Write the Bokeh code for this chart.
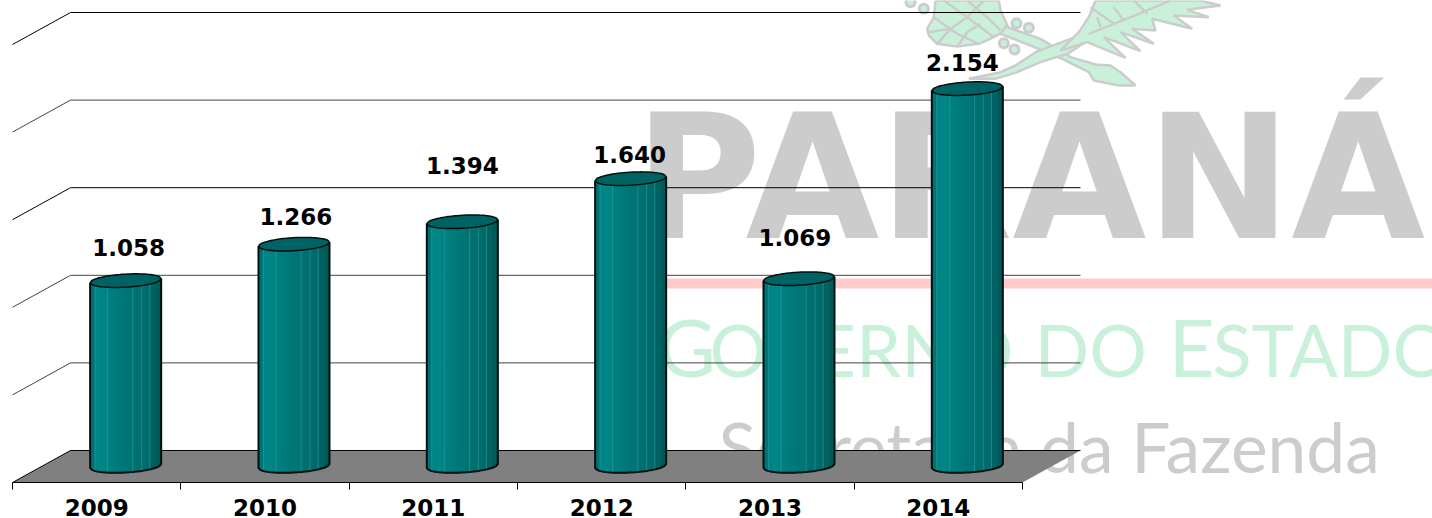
import numpy as np
from bokeh.embed import file_html
from bokeh.models import FixedTicker, Range1d
from bokeh.core.properties import value
from bokeh.plotting import figure
from bokeh.resources import INLINE

# ---- chart data
years = ["2009", "2010", "2011", "2012", "2013", "2014"]
values = [1058, 1266, 1394, 1640, 1069, 2154]
value_labels = ["1.058", "1.266", "1.394", "1.640", "1.069", "2.154"]
label_lift = [190, 158, 320, 140, 235, 150]
label_nudge = [3, 2, 0, -1, -4, -5]
wall_ticks = [0, 500, 1000, 1500, 2000, 2500]

# ---- projection, page pixels <-> chart units
PX_CAT = 168.33
PX_VAL = 87.6 / 500
X0_PAGE = 12.0
Y0_PAGE = 465.5
FRONT = -16.5 / PX_VAL
BACK = 15.5 / PX_VAL
DEPTH_X = 58 / PX_CAT
MID_X = DEPTH_X / 2
HALF_W = 35.5 / PX_CAT
FACE = 6.5 / PX_VAL
SKEW = 2.0 / PX_VAL

W, H = 1432, 518
PAGE_BOTTOM = 482
p = figure(
    width=W, height=H, frame_width=W, frame_height=PAGE_BOTTOM,
    output_backend="svg", toolbar_location=None, tools="",
    x_range=Range1d(-X0_PAGE / PX_CAT, (W - X0_PAGE) / PX_CAT),
    y_range=Range1d(FRONT, Y0_PAGE / PX_VAL),
    y_axis_location=None, min_border=0, outline_line_color=None,
)
p.grid.visible = False
p.extra_x_ranges["px"] = Range1d(0, W)
p.extra_y_ranges["px"] = Range1d(PAGE_BOTTOM, 0)
PX = dict(x_range_name="px", y_range_name="px")

# ---- watermark behind the chart
GREY = "#cccccc"
GREEN = "#c9f1da"
p.text([634], [177], text=["PARANÁ"], text_font=value("DejaVu Sans"), text_font_style="bold",
       text_font_size="173px", text_color=GREY, text_baseline="middle", **PX)
p.quad(left=[665], right=[1432], top=[278], bottom=[288], fill_color="#ffcccc", line_color=None, **PX)
p.text([657, 709, 1034, 1168, 1212], [345, 348, 348, 345, 348],
       text=["G", "OVERNO", "DO", "E", "STADO"], text_font=value("Lato"),
       text_font_size=["80px", "72px", "72px", "80px", "72px"],
       text_color=GREEN, text_baseline="middle", **PX)
p.text([718], [445], text=["Secretaria da Fazenda"], text_font=value("Lato"), text_font_size="69.5px",
       text_color=GREY, text_baseline="middle", **PX)

# logo
def z(pts, ox):
    return [ox + a / 3 for a, _ in pts], [b / 3 for _, b in pts]

cone = [(80,85),(100,50),(105,0),(295,0),(300,30),(325,85),(280,110),(235,130),(170,138),(110,130),(85,105)]
stem_a = [(315,78),(420,115),(510,170),(585,192),(630,195),(660,215),(705,255),(655,255),(580,240),(565,215),(485,175),(390,135),(300,100)]
stem_b = [(205,235),(300,215),(345,195),(405,155),(510,115),(560,95),(600,95),(500,160),(420,185),(350,215),(285,235)]
fern = [(535,95),(565,50),(585,0),(900,0),(960,15),(860,28),(925,50),(820,45),(875,85),(755,55),(765,90),(695,85),(760,130),(660,95),(720,152),(610,110),(675,172),(560,125),(480,150)]
shapes = [z(cone, 900), z(stem_a, 900), z(stem_b, 900), z(fern, 900)]
p.patches([s[0] for s in shapes], [s[1] for s in shapes], fill_color=GREEN, line_color=GREY, line_width=2.5, **PX)
veins = [
    [(100,50),(170,100),(235,130)], [(130,0),(200,50),(280,110)], [(200,0),(260,50),(300,90)],
    [(85,95),(150,85),(200,50),(250,0)], [(110,130),(150,85)], [(170,138),(200,95),(240,70)],
    [(565,100),(715,40),(810,0)], [(590,50),(600,80)], [(640,20),(670,60)], [(700,0),(740,40)], [(570,20),(640,70)],
]
vz = [z(s, 900) for s in veins]
p.multi_line([s[0] for s in vz], [s[1] for s in vz], line_color=GREY, line_width=2.5, **PX)
bx, by = z([(348,68),(385,82),(310,128),(342,147),(70,25),(30,5)], 900)
p.scatter(bx, by, size=9, marker="circle", fill_color=GREEN, line_color=GREY, line_width=3, **PX)

# ---- floor and walls
n = len(years)
p.patch([0, DEPTH_X, n + DEPTH_X, n], [FRONT, BACK, BACK, FRONT], fill_color="#808080", line_color=None)
p.line([0, DEPTH_X], [FRONT, BACK], line_color="#000000", line_width=1)
p.line([DEPTH_X, n + DEPTH_X], [BACK, BACK], line_color="#000000", line_width=1)
for t in wall_ticks[1:]:
    c = "#000000" if t in (wall_ticks[-1], 1500) else "#444444"
    p.line([0, DEPTH_X, n + DEPTH_X], [t + FRONT, t + BACK, t + BACK], line_color=c, line_width=1)

# ---- cylinders
stops_u = np.linspace(-1, 1, 15)
stop_colors = ["#007474", "#008585", "#008686", "#008282", "#007e7e", "#007a7a", "#007777", "#007575",
               "#007272", "#006f6f", "#006c6c", "#006969", "#006262", "#005a5a"]
shine_u = [-0.86, -0.51, 0.2, 0.45, 0.68]
OUTLINE = "#000f0f"

def front_edge(u):
    u = np.asarray(u, float)
    return -FACE * np.sqrt(np.clip(1 - u * u, 0, 1)) + SKEW * u

def back_edge(u):
    u = np.asarray(u, float)
    return FACE * np.sqrt(np.clip(1 - u * u, 0, 1)) + SKEW * u

for i, v in enumerate(values):
    cx = i + 0.5 + MID_X
    sx, sy, sc = [], [], []
    for a, b, col in zip(stops_u[:-1], stops_u[1:], stop_colors):
        xa, xb = cx + a * HALF_W, cx + b * HALF_W
        ya, yb = float(front_edge(a)), float(front_edge(b))
        sx.append([xa, xb, xb, xa]); sy.append([ya, yb, v + yb, v + ya]); sc.append(col)
    p.patches(sx, sy, fill_color=sc, line_color=sc, line_width=1)
    p.multi_line([[cx + u * HALF_W] * 2 for u in shine_u],
                 [[float(front_edge(u)), v + float(front_edge(u))] for u in shine_u],
                 line_color="#2f9c9c", line_width=1, line_alpha=0.6)
    fine = np.linspace(-1, 1, 41)
    px_ = cx + fine * HALF_W
    p.line([px_[0]] + list(px_) + [px_[-1]],
           [v + float(front_edge(-1.0))] + [float(y) for y in front_edge(fine)] + [v + float(front_edge(1.0))],
           line_color=OUTLINE, line_width=2)
    p.patch(list(px_) + list(px_[::-1]), [v + float(y) for y in front_edge(fine)] + [v + float(y) for y in back_edge(fine[::-1])],
            fill_color="#006363", line_color=OUTLINE, line_width=1.5)

# ---- value labels
LABEL_FONT = value("DejaVu Sans")
p.text([i + 0.5 + MID_X + dx / PX_CAT for i, dx in enumerate(label_nudge)],
       [v + l for v, l in zip(values, label_lift)], text=value_labels,
       text_font=LABEL_FONT, text_font_style="bold", text_font_size="23px", text_color="#000000",
       text_align="center", text_baseline="middle")

# ---- category axis
ax = p.xaxis[0]
mids = [i + 0.5 for i in range(n)]
ax.ticker = FixedTicker(ticks=mids, minor_ticks=list(range(n + 1)))
ax.major_label_overrides = {m: y for m, y in zip(mids, years)}
ax.bounds = (0, n)
ax.axis_line_color = "#000000"
ax.major_tick_line_color = None
ax.minor_tick_line_color = "#000000"
ax.minor_tick_in = 0
ax.minor_tick_out = 7
ax.major_tick_in = 0
ax.major_tick_out = 0
ax.major_label_standoff = 9
ax.major_label_text_font = "DejaVu Sans"
ax.major_label_text_font_style = "bold"
ax.major_label_text_font_size = "23px"
ax.major_label_text_color = "#000000"

open("out.html", "w").write(file_html(p, INLINE))
